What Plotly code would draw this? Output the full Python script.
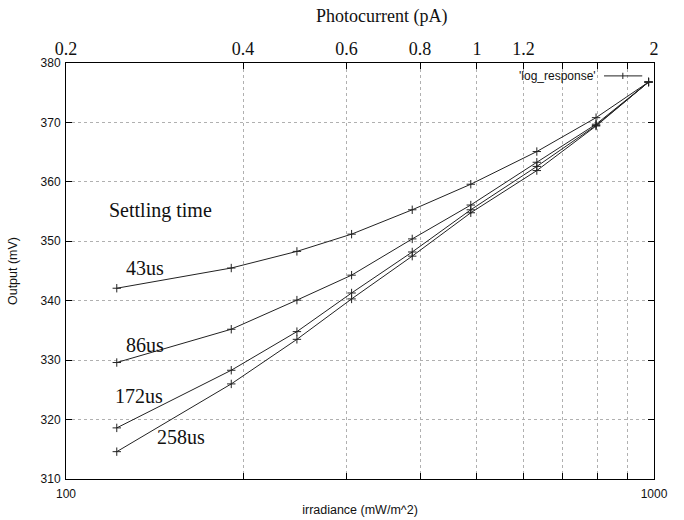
import math
import plotly.graph_objects as go

# Irradiance sample points (mW/m^2) shared by every settling-time run
irradiance = [122, 191, 247, 306, 388, 488, 632, 797, 979]

# Output voltage (mV) for each settling time
settling_labels = ["43us", "86us", "172us", "258us"]
out_43us = [342.1, 345.5, 348.3, 351.2, 355.3, 359.6, 365.1, 370.8, 376.8]
out_86us = [329.6, 335.2, 340.1, 344.3, 350.4, 356.1, 363.3, 369.7, 376.8]
out_172us = [318.6, 328.3, 334.8, 341.3, 348.2, 355.3, 362.6, 369.5, 376.8]
out_258us = [314.6, 326.0, 333.5, 340.3, 347.5, 354.8, 361.9, 369.4, 376.8]
series = [out_43us, out_86us, out_172us, out_258us]

# Label anchor points (irradiance, mV)
label_x = [136, 136, 133, 157]
label_y = [345.5, 332.5, 324.0, 317.0]

# Axis ticks
bottom_ticks = [100, 200, 300, 400, 500, 600, 700, 800, 900, 1000]
bottom_text = ["100", "", "", "", "", "", "", "", "", "1000"]
top_ticks = [0.2, 0.4, 0.6, 0.8, 1.0, 1.2, 1.4, 1.6, 1.8, 2.0]
top_text = ["0.2", "0.4", "0.6", "0.8", "1", "1.2", "", "", "", "2"]
y_ticks = [310, 320, 330, 340, 350, 360, 370, 380]

LINE = "#222222"
GRID = "#b0b0b0"
SANS = "Liberation Sans, Arial, sans-serif"
SERIF = "Liberation Serif, Times New Roman, serif"

fig = go.Figure()
for vals in series:
    fig.add_trace(go.Scatter(
        x=irradiance, y=vals, mode="lines+markers",
        line=dict(color=LINE, width=1),
        marker=dict(symbol="cross-thin", size=6,
                    line=dict(color=LINE, width=1)),
        showlegend=False, hoverinfo="x+y",
    ))

# invisible trace to activate the top photocurrent axis
fig.add_trace(go.Scatter(x=[top_ticks[0], top_ticks[-1]], y=[310, 310],
                         xaxis="x2", mode="markers",
                         marker=dict(opacity=0), showlegend=False,
                         hoverinfo="skip"))

fig.add_annotation(x=math.log10(144.5), y=355.1, text="Settling time",
                   showarrow=False, xref="x", yref="y",
                   font=dict(family=SERIF, size=20, color="#111"))
for lab, lx, ly in zip(settling_labels, label_x, label_y):
    fig.add_annotation(x=math.log10(lx), y=ly, text=lab, showarrow=False,
                       xref="x", yref="y",
                       font=dict(family=SERIF, size=20, color="#111"))

fig.add_annotation(x=0.537, y=1.111, xref="paper", yref="paper",
                   yanchor="middle",
                   text="Photocurrent (pA)", showarrow=False,
                   font=dict(family=SERIF, size=18, color="#111"))

# key in the upper-right corner
KEY_Y = 0.969
fig.add_annotation(x=0.905, y=KEY_Y, xref="paper", yref="paper",
                   xanchor="right", yanchor="middle",
                   text="'log_response'", showarrow=False,
                   font=dict(family=SANS, size=12, color="#111"))
fig.add_shape(type="line", xref="paper", yref="paper",
              x0=0.915, x1=0.980, y0=KEY_Y, y1=KEY_Y,
              line=dict(color=LINE, width=1))
fig.add_shape(type="line", xref="paper", yref="paper",
              x0=0.947, x1=0.947, y0=KEY_Y - 0.0075, y1=KEY_Y + 0.0075,
              line=dict(color=LINE, width=1))

axis_common = dict(showline=True, linecolor="#000", linewidth=1,
                   ticks="inside", tickcolor="#000", ticklen=6,
                   zeroline=False, automargin=False)

fig.update_layout(
    width=684, height=520,
    margin=dict(l=66, r=30, t=63, b=41),
    paper_bgcolor="white", plot_bgcolor="white",
    xaxis=dict(type="log", range=[2, 3], tickvals=bottom_ticks,
               ticktext=bottom_text, mirror=False, ticklabelstandoff=4,
               showgrid=True, gridcolor=GRID, griddash="dot", gridwidth=1,
               tickfont=dict(family=SANS, size=12, color="#111"),
               title=dict(text="irradiance (mW/m^2)", standoff=4,
                          font=dict(family=SANS, size=12.5, color="#111")),
               **axis_common),
    xaxis2=dict(type="log", overlaying="x", side="top",
                range=[math.log10(0.2), math.log10(2)],
                tickvals=top_ticks, ticktext=top_text, showgrid=False,
                tickfont=dict(family=SERIF, size=18, color="#111"),
                **axis_common),
    yaxis=dict(range=[310, 380], tickvals=y_ticks, mirror="ticks",
               showgrid=True, gridcolor=GRID, griddash="dot", gridwidth=1,
               ticklabelstandoff=2,
               tickfont=dict(family=SANS, size=12, color="#111"),
               title=dict(text="Output (mV)", standoff=20,
                          font=dict(family=SANS, size=12.5, color="#111")),
               **axis_common),
)

fig.write_html("out.html")
